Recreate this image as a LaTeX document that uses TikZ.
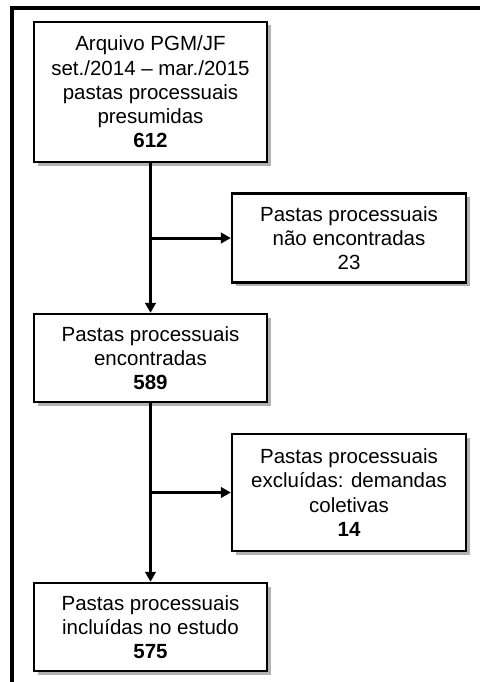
\documentclass[tikz,border=0pt]{standalone}
\usepackage{fontspec}
\setmainfont{Liberation Sans}
\usepackage{tikz}
\usetikzlibrary{arrows.meta,shadows}

\begin{document}
\begin{tikzpicture}[x=1pt,y=-1pt,
  caixa/.style={draw=black,line width=2.3pt,fill=white,align=center,inner sep=0pt,
    font=\fontsize{20.5}{24.3}\selectfont,
    drop shadow={shadow xshift=3.5pt,shadow yshift=-3.5pt,fill=black,opacity=0.3}},
  seta/.style={line width=3pt,-{Triangle[length=10pt,width=10.5pt]}}]
\useasboundingbox (0,0) rectangle (480,682);
% moldura
\draw[line width=3.5pt] (480,8) -- (12,8) -- (12,682);
% caixas
\node[caixa,minimum width=233pt,minimum height=140pt] (arquivo) at (150.5,92)
  {Arquivo PGM/JF\\set./2014 -- mar./2015\\pastas processuais\\presumidas\\\textbf{612}};
\node[caixa,minimum width=234pt,minimum height=89pt] (naoenc) at (349,238)
  {Pastas processuais\\não encontradas\\23};
\node[caixa,minimum width=233pt,minimum height=88pt] (enc) at (150.5,358)
  {Pastas processuais\\encontradas\\\textbf{589}};
\node[caixa,minimum width=234pt,minimum height=117pt] (excl) at (349,492.5)
  {Pastas processuais\\excluídas: demandas\\coletivas\\\textbf{14}};
\node[caixa,minimum width=233pt,minimum height=88pt] (incl) at (150.5,627)
  {Pastas processuais\\incluídas no estudo\\\textbf{575}};
% setas
\coordinate (ramo1) at (arquivo.south |- naoenc.west);
\coordinate (ramo2) at (enc.south |- excl.west);
\draw[seta] (arquivo.south) -- (enc.north);
\draw[seta] (ramo1) -- (naoenc.west);
\draw[seta] (enc.south) -- (incl.north);
\draw[seta] (ramo2) -- (excl.west);
\end{tikzpicture}
\end{document}
